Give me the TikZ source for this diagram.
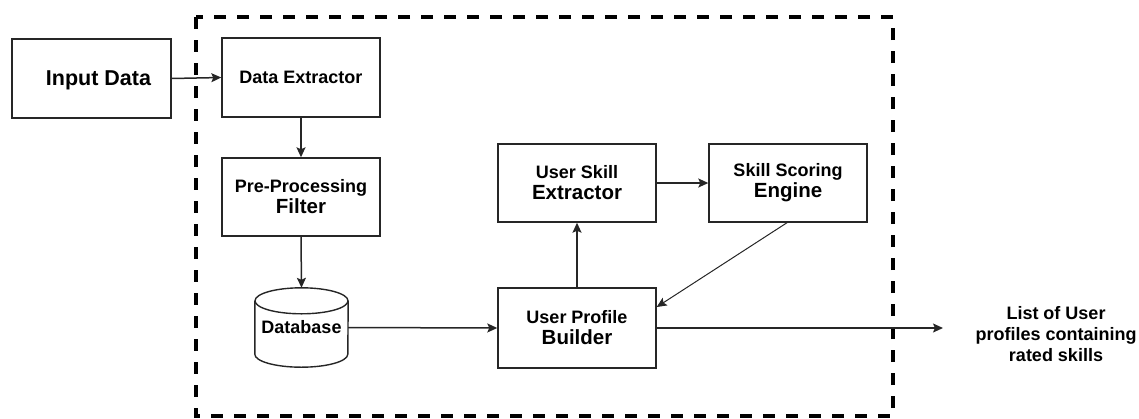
\documentclass[tikz,border=0pt]{standalone}
\usepackage{fontspec}
\setmainfont{Liberation Sans}
\usetikzlibrary{arrows.meta,calc}

\newcommand{\fsA}{\fontsize{18}{21}\selectfont}
\newcommand{\fsB}{\fontsize{20.5}{21}\selectfont}

\begin{document}
\begin{tikzpicture}[x=1pt,y=-1pt,
  box/.style={draw=black!85,line width=1.4pt,rectangle,inner sep=0pt,
    minimum width=158pt,minimum height=79pt,align=center,
    font=\bfseries\fsA},
  flow/.style={draw=black!85,line width=1.5pt,
    -{Stealth[length=10pt,width=9pt,inset=2pt]}},
  frame/.style={draw=black,line width=3.2pt,dash pattern=on 12pt off 11pt},
  outtext/.style={align=center,font=\bfseries\fsA,inner sep=0pt}
]
  % page area
  \useasboundingbox (0,0) rectangle (1139,418);

  % system boundary
  \draw[frame] (196,17) rectangle (893,416);

  % blocks
  \node[box,minimum width=159pt,text depth=0pt] (inp) at (91.5,78.5)
    {\fontsize{21.5}{24}\selectfont\hspace{14pt}Input Data};
  \node[box] (dex) at (301,77.5) {Data Extractor};
  \node[box,minimum height=78pt] (ppf) at (301,197) {Pre-Processing\\\fsB Filter};
  \node[box,minimum height=78pt] (use) at (577,183) {User Skill\\\fsB Extractor};
  \node[box,minimum height=78pt] (sse) at (788,183) {Skill Scoring\\\fsB Engine};
  \node[box,minimum height=80pt] (upb) at (577,328) {User Profile\\\fsB Builder};

  % database cylinder
  \node[rectangle,inner sep=0pt,minimum width=93pt,minimum height=79pt,
        font=\bfseries\fsA] (db) at (301.5,327.5) {Database};
  \draw[draw=black!85,line width=1.4pt]
    ($(db.north west)+(0,13)$) -- ($(db.south west)+(0,-13)$)
    arc[start angle=180,end angle=360,x radius=46.5pt,y radius=13pt]
    -- ($(db.north east)+(0,13)$);
  \draw[draw=black!85,line width=1.4pt]
    ($(db.north)+(0,13)$) ellipse[x radius=46.5pt,y radius=13pt];

  % output
  \coordinate (outend) at (943,328);
  \node[outtext] (res) at (1056,334.5)
    {List of User\\profiles containing\\rated skills};

  % connectors
  \draw[flow] (inp.east) -- (dex.west);
  \draw[flow] (dex.south) -- (ppf.north);
  \draw[flow] (ppf.south) -- (db.north);
  \draw[flow] (db.east) -- (upb.west);
  \draw[flow] (upb.north) -- (use.south);
  \draw[flow] (use.east) -- (sse.west);
  \draw[flow,line width=1pt] ([xshift=-1pt]sse.south) -- ([yshift=21pt]upb.east);
  \draw[flow] (upb.east) -- (outend);
\end{tikzpicture}
\end{document}
